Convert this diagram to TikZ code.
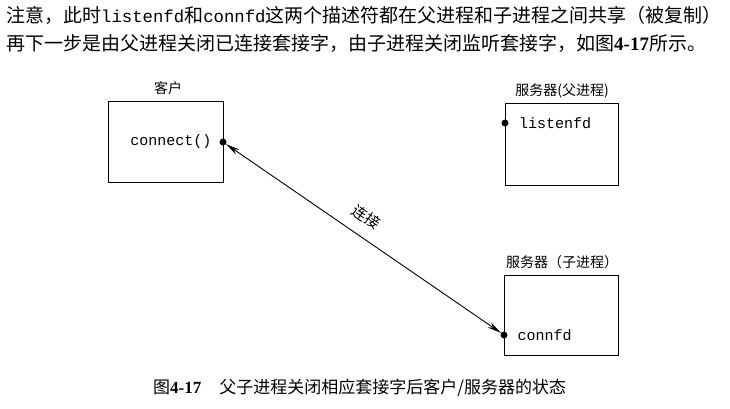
\documentclass[tikz,border=0pt]{standalone}
\usepackage{fontspec}
\setmainfont{Noto Sans CJK SC}
\newfontfamily\monof{Liberation Mono}
\newfontfamily\serff{Liberation Serif}
\usetikzlibrary{arrows.meta}
\tikzset{
  procbox/.style={draw, line width=1.1pt, inner sep=0pt, anchor=north west},
  fddot/.style={circle, fill=black, inner sep=0pt, minimum size=7pt},
  fdtext/.style={font=\monof\fontsize{15}{15}\selectfont, inner sep=0pt},
  boxlabel/.style={font=\fontsize{14}{14}\selectfont, inner sep=0pt},
  bodytext/.style={font=\fontsize{19}{19}\selectfont, inner sep=0pt, anchor=west},
  conn/.style={line width=0.9pt, {Stealth[length=14pt,width=6pt]}-{Stealth[length=14pt,width=6pt]}},
}
\begin{document}
\begin{tikzpicture}[x=1pt,y=-1pt]
\useasboundingbox (0,0) rectangle (730,408);
\fill[white] (0,0) rectangle (730,408);

% body text
\node[bodytext] (l1) at (6,15) {注意，此时{\monof\fontsize{17.3}{17.3}\selectfont listenfd}和{\monof\fontsize{17.3}{17.3}\selectfont connfd}这两个描述符都在父进程和子进程之间共享（被复制）};
\node[bodytext] (l2) at (6,43) {再下一步是由父进程关闭已连接套接字，由子进程关闭监听套接字，如图{\serff\bfseries 4-17}所示。};

% boxes
\node[procbox, minimum width=115pt, minimum height=81pt] (client) at (108,101) {};
\node[procbox, minimum width=113pt, minimum height=82pt] (parent) at (505,103) {};
\node[procbox, minimum width=114pt, minimum height=80pt] (child) at (504,275) {};

% box labels
\node[boxlabel] (clientlab) at (168,88) {客户};
\node[boxlabel] (parentlab) at (562,91) {服务器(父进程)};
\node[boxlabel] (childlab) at (562,262) {服务器（子进程）};

% descriptors
\node[fdtext] (connect) at (171,142) {connect()};
\node[fdtext] (listenfd) at (555,123) {listenfd};
\node[fdtext] (connfd) at (544.5,335) {connfd};

\node[fddot] (cdot) at (223,142) {};
\node[fddot] (ldot) at (505,123) {};
\node[fddot] (sdot) at (504,335) {};

% connection
\draw[conn] (cdot) -- node[sloped, above=12pt, pos=0.47, font=\fontsize{15}{15}\selectfont, inner sep=0pt] (connlab) {连接} (sdot);

% caption
\node[font=\fontsize{17}{17}\selectfont, inner sep=0pt, anchor=west] (caption) at (153,388) {图{\serff\bfseries 4-17}\hspace{18pt}父子进程关闭相应套接字后客户/服务器的状态};
\end{tikzpicture}
\end{document}
